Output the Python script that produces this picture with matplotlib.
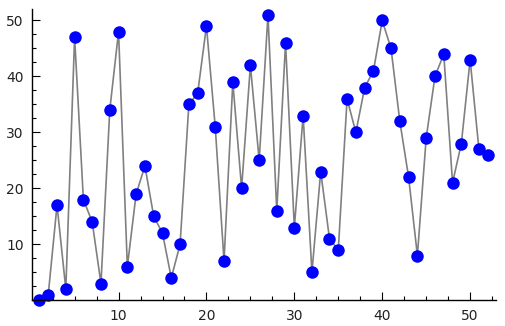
import matplotlib
matplotlib.use("Agg")
import matplotlib.pyplot as plt
from matplotlib.ticker import MultipleLocator

xs = list(range(1, 53))
ys = [0, 1, 17, 2, 47, 18, 14, 3, 34, 48, 6, 19, 24, 15, 12, 4, 10, 35, 37, 49,
      31, 7, 39, 20, 42, 25, 51, 16, 46, 13, 33, 5, 23, 11, 9, 36, 30, 38, 41, 50,
      45, 32, 22, 8, 29, 40, 44, 21, 28, 43, 27, 26]
xticks = [10, 20, 30, 40, 50]
yticks = [10, 20, 30, 40, 50]

fig = plt.figure(figsize=(5.06, 3.26), dpi=100)
ax = fig.add_axes([0.0632, 0.0788, 0.9168, 0.8927])
ax.plot(xs, ys, color="gray", lw=1.2, zorder=1)
ax.scatter(xs, ys, s=9.0**2, color="blue", zorder=2, clip_on=False, linewidths=0)
ax.set_xlim(0.15, 52.93)
ax.set_ylim(0, 52)
for s in ["top", "right"]:
    ax.spines[s].set_visible(False)
for s in ["left", "bottom"]:
    ax.spines[s].set_linewidth(1.0)
ax.set_xticks(xticks)
ax.set_yticks(yticks)
ax.xaxis.set_minor_locator(MultipleLocator(2.5))
ax.yaxis.set_minor_locator(MultipleLocator(2.5))
ax.tick_params(which="major", direction="in", length=6, width=0.8, labelsize=10, pad=6, colors="black")
ax.tick_params(which="minor", direction="in", length=3, width=0.8)
for lab in ax.get_xticklabels() + ax.get_yticklabels():
    lab.set_color("#222222")
fig.savefig("out.png", dpi=100)
